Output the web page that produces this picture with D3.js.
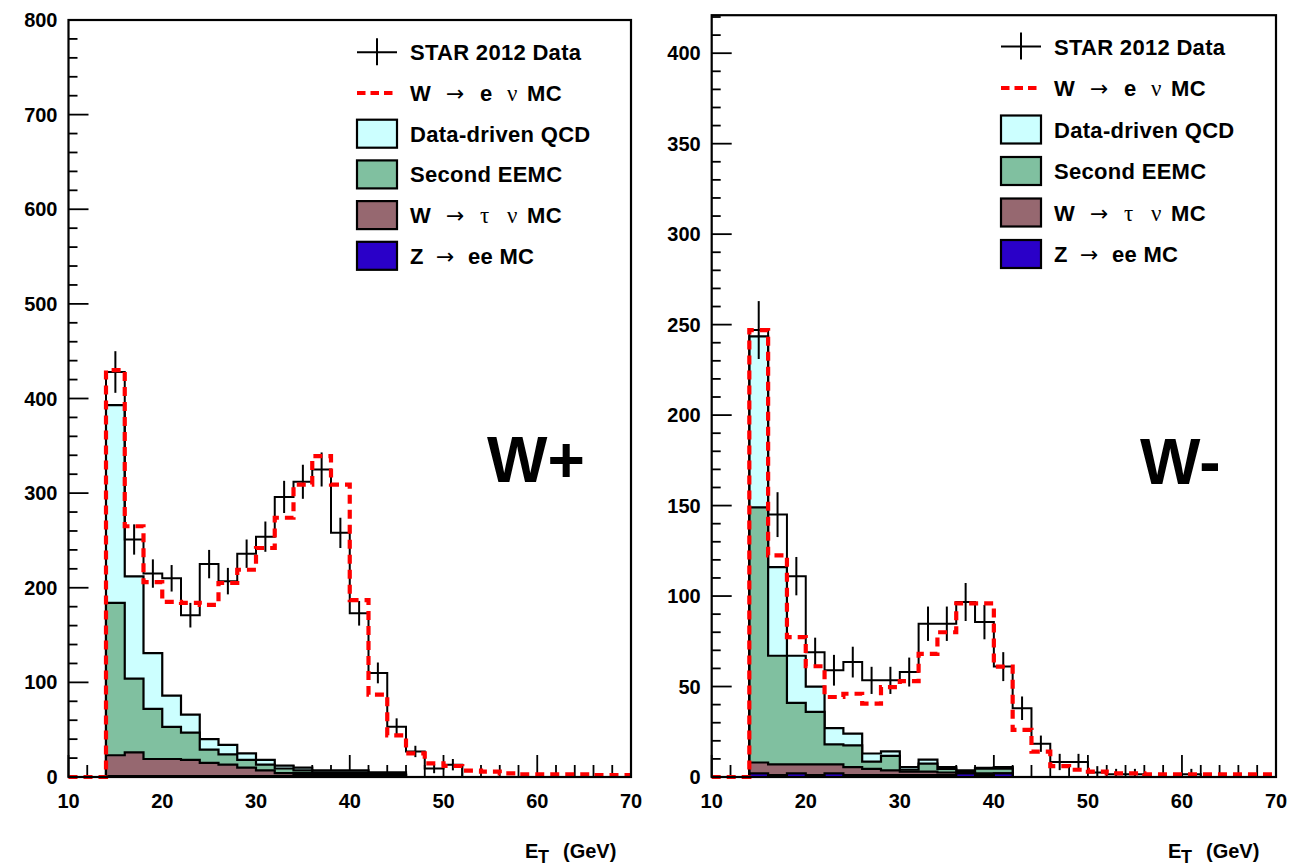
<!DOCTYPE html>
<html><head><meta charset="utf-8">
<script src="https://cdn.jsdelivr.net/npm/d3@7"></script>
<style>body{margin:0;background:#fff;}svg{display:block;}</style>
</head><body>
<svg id="c" width="1301" height="866"></svg>
<script>
// ---------- DATA ----------
// bin lower edges (GeV), bin width 2, last edge 70
const binEdges = [10,12,14,16,18,20,22,24,26,28,30,32,34,36,38,40,42,44,46,48,50,52,54,56,58,60,62,64,66,68,70];
const xTickLabels = [10,20,30,40,50,60,70];
const yTickLabelsPlus = [0,100,200,300,400,500,600,700,800];
const yTickLabelsMinus = [0,50,100,150,200,250,300,350,400];

// W+ panel
const dataPlus = [0,0,428,251,215,210,171,225,207,236,254,296,312,325,258,173,110,53,27,9,13,0,0,0,0,0,0,0,0,0];
const errPlus  = [0,0,22,16,15,14,13,15,14,15,16,17,18,18,16,13,11,9,6,5,6,0,0,0,0,0,0,0,0,0];
const mcPlus   = [0,0,430,265,206,185,184,182,205,219,242,274,309,339,309,187,87,44,25,14.5,11.6,6.7,5.6,3.9,2.8,2.8,2.8,2.8,2,2];
const zeePlus  = [0,0,1,1,1,1,1,1,1,1,1,1,2,2,2,2,2,2,0,0,0,0,0,0,0,0,0,0,0,0];
const tauPlus  = [0,0,22,25,18,18,17,14,12,9,6,3,2,1,1,1,1,0,0,0,0,0,0,0,0,0,0,0,0,0];
const eemcPlus = [0,0,161,78,53,34,29,14,11,8,6,5,3,2,2,2,1,1,0,0,0,0,0,0,0,0,0,0,0,0];
const qcdPlus  = [0,0,209,108,59,33,19,11,10,7,5,3,3,2,2,2,1,2,0,0,0,0,0,0,0,0,0,0,0,0];

// W- panel
const dataMinus = [0,0,247,145,111,69,59,63.5,53.4,53.4,58,84.7,84.7,96.7,85.6,61,38,18.4,8.3,8.3,2.5,1.5,1.5,0,0,1.5,0,0,0,0];
const errMinus  = [0,0,16,12.4,10.6,8,8.5,8.5,7.5,7.5,8,9.5,9.5,10.5,9.5,8,6.5,4.5,4.5,4.5,3.5,3,3,0,0,3,0,0,0,0];
const mcMinus   = [0,0,247,122.5,77.3,61.2,44.2,46,40.5,49.7,53,68,80,96,96,61,26,14,6,4,3,2,2,1.4,1.4,1.4,1.4,1.4,1.4,1.4];
const zeeMinus  = [0,0,2,1,2,1,2,1,1,1,1,1,1,2,1,2,0,0,0,0,0,0,0,0,0,0,0,0,0,0];
const tauMinus  = [0,0,6,6,5,6,5,4.5,3.5,2.7,2,2,1.5,0.5,1,0,0,0,0,0,0,0,0,0,0,0,0,0,0,0];
const eemcMinus = [0,0,141,60,34,29,11,12,4,8,1,4.4,2,0.5,2.6,2.6,0,0,0,0,0,0,0,0,0,0,0,0,0,0];
const qcdMinus  = [0,0,94.5,49,26,14,9,6.5,4.5,2.5,1.5,2.2,1,0.7,0.4,0.9,0,0,0,0,0,0,0,0,0,0,0,0,0,0];

const legendLabels = ["STAR 2012 Data","W → e ν MC","Data-driven QCD","Second EEMC","W → τ ν MC","Z → ee MC"];
const stackColors = ["#2a00c8","#966870","#80c0a0","#ccffff"]; // Z, tau, EEMC, QCD

// ---------- DRAW ----------
const svg = d3.select('#c');
const FONT = "'Liberation Sans', Arial, Helvetica, sans-serif";
const SYMFONT = "'Liberation Serif', 'DejaVu Serif', serif";
const ARROWFONT = "'DejaVu Sans', sans-serif";

const panels = [
  {label:'W+', data:dataPlus, err:errPlus, mc:mcPlus, stack:[zeePlus,tauPlus,eemcPlus,qcdPlus],
   yMax:800, yLabels:yTickLabelsPlus, yMinor:20,
   frame:{x0:68.5,x1:631,y0:20,y1:777}, leg:{x:357,y:52.3,dy:40.7}, big:{x:487,y:482}, title:{x:525,y:858}},
  {label:'W-', data:dataMinus, err:errMinus, mc:mcMinus, stack:[zeeMinus,tauMinus,eemcMinus,qcdMinus],
   yMax:421, yLabels:yTickLabelsMinus, yMinor:10,
   frame:{x0:711.7,x1:1276,y0:15.2,y1:777}, leg:{x:1001,y:46.5,dy:41.5}, big:{x:1140,y:484}, title:{x:1168,y:858}}
];

panels.forEach(p => {
  const f = p.frame;
  const x = d3.scaleLinear().domain([10,70]).range([f.x0,f.x1]);
  const y = d3.scaleLinear().domain([0,p.yMax]).range([f.y1,f.y0]);
  const g = svg.append('g');

  // x ticks (inward), drawn beneath histograms
  d3.range(10,70.01,2).forEach(v => {
    const major = (v % 10 === 0);
    g.append('line').attr('x1',x(v)).attr('x2',x(v))
      .attr('y1',f.y1).attr('y2',f.y1-(major?22:12))
      .attr('stroke','#000').attr('stroke-width',1.8);
  });
  // y ticks (inward)
  d3.range(0,p.yMax+0.01,p.yMinor).forEach(v => {
    const major = p.yLabels.includes(v);
    g.append('line').attr('x1',f.x0).attr('x2',f.x0+(major?20:9))
      .attr('y1',y(v)).attr('y2',y(v))
      .attr('stroke','#000').attr('stroke-width',1.8);
  });

  const pts = arr => arr.map((v,i)=>[binEdges[i],v]).concat([[binEdges[arr.length],arr[arr.length-1]]]);

  // stacked backgrounds, drawn from the top cumulative down
  const cums = [];
  let run = new Array(p.stack[0].length).fill(0);
  p.stack.forEach(layer => { run = run.map((v,i)=>v+layer[i]); cums.push(run.slice()); });
  const area = d3.area().curve(d3.curveStepAfter).x(d=>x(d[0])).y0(f.y1).y1(d=>y(d[1]));
  for (let k = cums.length-1; k >= 0; k--) {
    g.append('path').attr('d', area(pts(cums[k])))
      .attr('fill', stackColors[k]).attr('stroke','#000').attr('stroke-width',2.2)
      .attr('stroke-linejoin','miter');
  }

  const line = d3.line().curve(d3.curveStepAfter).x(d=>x(d[0])).y(d=>y(d[1]));
  // data step + error bars
  g.append('path').attr('d', line(pts(p.data))).attr('fill','none')
    .attr('stroke','#000').attr('stroke-width',2);
  p.data.forEach((v,i) => {
    if (v <= 0) return;
    const cx = x((binEdges[i]+binEdges[i+1])/2);
    g.append('line').attr('x1',cx).attr('x2',cx)
      .attr('y1',y(Math.max(0,v-p.err[i]))).attr('y2',y(v+p.err[i]))
      .attr('stroke','#000').attr('stroke-width',2);
  });
  // W -> e nu MC (red dashed)
  g.append('path').attr('d', line(pts(p.mc))).attr('fill','none')
    .attr('stroke','#ff0000').attr('stroke-width',4.2).attr('stroke-dasharray','9,6');

  // frame
  g.append('rect').attr('x',f.x0).attr('y',f.y0).attr('width',f.x1-f.x0).attr('height',f.y1-f.y0)
    .attr('fill','none').attr('stroke','#000').attr('stroke-width',2.2);

  // tick labels
  p.yLabels.forEach(v => {
    g.append('text').attr('x',f.x0-11).attr('y',y(v)+7).attr('text-anchor','end')
      .attr('font-family',FONT).attr('font-weight','bold').attr('font-size',20).text(v);
  });
  xTickLabels.forEach(v => {
    g.append('text').attr('x',x(v)).attr('y',808).attr('text-anchor','middle')
      .attr('font-family',FONT).attr('font-weight','bold').attr('font-size',20).text(v);
  });

  // axis title E_T (GeV)
  const t = p.title;
  g.append('text').attr('x',t.x).attr('y',t.y).attr('font-family',FONT).attr('font-weight','bold')
    .attr('font-size',20).text('E');
  g.append('text').attr('x',t.x+13).attr('y',t.y+5).attr('font-family',FONT).attr('font-weight','bold')
    .attr('font-size',18).text('T');
  g.append('text').attr('x',t.x+38).attr('y',t.y).attr('font-family',FONT).attr('font-weight','bold')
    .attr('font-size',20).text('(GeV)');

  // big label
  g.append('text').attr('x',p.big.x).attr('y',p.big.y).attr('font-family',FONT).attr('font-weight','bold')
    .attr('font-size',64).text(p.label);

  // legend
  const L = p.leg;
  const tx = L.x + 53;
  legendLabels.forEach((lab,i) => {
    const cy = L.y + i*L.dy;
    if (i === 0) {
      g.append('line').attr('x1',L.x).attr('x2',L.x+40).attr('y1',cy).attr('y2',cy).attr('stroke','#000').attr('stroke-width',2);
      g.append('line').attr('x1',L.x+20).attr('x2',L.x+20).attr('y1',cy-14).attr('y2',cy+13).attr('stroke','#000').attr('stroke-width',2);
    } else if (i === 1) {
      g.append('line').attr('x1',L.x).attr('x2',L.x+40).attr('y1',cy).attr('y2',cy)
        .attr('stroke','#ff0000').attr('stroke-width',4.2).attr('stroke-dasharray','8.5,5');
    } else {
      const col = stackColors[3-(i-2)];
      g.append('rect').attr('x',L.x).attr('y',cy-14).attr('width',40).attr('height',28)
        .attr('fill',col).attr('stroke','#000').attr('stroke-width',2.2);
    }
    const txt = g.append('text').attr('y',cy+8).attr('font-family',FONT).attr('font-size',22)
      .attr('font-weight','bold').attr('letter-spacing',0.3);
    const parts = lab.split(' ');
    const sym = s => {
      if (s === '→') return {font:ARROWFONT, size:22};
      if (s === 'ν' || s === 'τ') return {font:SYMFONT, size:23};
      return null;
    };
    let offs;
    if (lab.startsWith('W →')) offs = [0,36,70,97,117];
    else if (lab.startsWith('Z →')) offs = [0,26,58];
    if (offs) {
      const segs = lab.startsWith('Z →') ? ['Z','→','ee MC'] : parts;
      segs.forEach((s,j) => {
        const sp = txt.append('tspan').attr('x',tx+offs[j]).text(s);
        const sy = sym(s);
        if (sy) sp.attr('font-family',sy.font).attr('font-size',sy.size).attr('font-weight','normal');
      });
    } else {
      txt.attr('x',tx).text(lab);
    }
  });
});
</script>
</body></html>
